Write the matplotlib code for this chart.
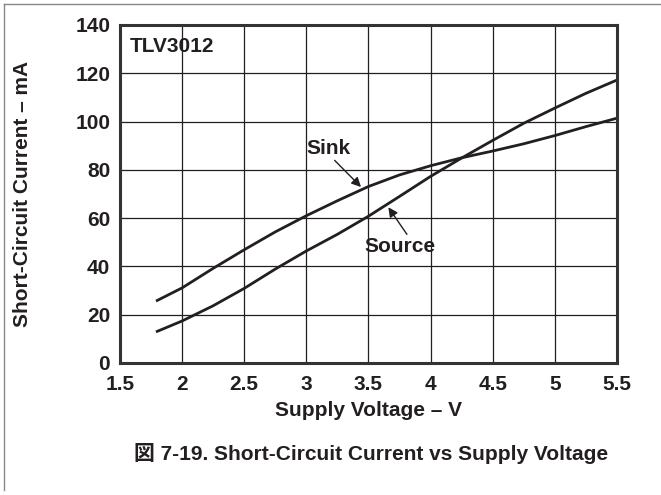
import matplotlib
matplotlib.use("Agg")
import matplotlib.pyplot as plt
from matplotlib.lines import Line2D

plt.rcParams['font.family'] = ['Liberation Sans', 'Noto Sans CJK JP', 'DejaVu Sans']
plt.rcParams['font.weight'] = 'bold'

voltage = [1.8, 2.0, 2.25, 2.5, 2.75, 3.0, 3.25, 3.5, 3.75, 4.0, 4.25, 4.5, 4.75, 5.0, 5.25, 5.5]
sink_ma = [25.9, 31.1, 39.2, 46.9, 54.3, 61.0, 67.2, 73.1, 77.9, 81.7, 85.0, 87.8, 90.8, 94.2, 97.9, 101.4]
source_ma = [13.1, 17.4, 23.7, 30.9, 38.9, 46.4, 53.3, 60.8, 69.0, 77.3, 84.9, 92.2, 99.3, 105.6, 111.7, 117.2]
xticks = [1.5, 2, 2.5, 3, 3.5, 4, 4.5, 5, 5.5]
xtick_labels = ['1.5', '2', '2.5', '3', '3.5', '4', '4.5', '5', '5.5']
yticks = [0, 20, 40, 60, 80, 100, 120, 140]

dark = '#231f20'
fs = 15

fig = plt.figure(figsize=(6.61, 4.95), dpi=100)
ax = fig.add_axes([0.1815, 0.2667, 0.7519, 0.6828])

ax.plot(voltage, sink_ma, color=dark, lw=2.0)
ax.plot(voltage, source_ma, color=dark, lw=2.0)

ax.set_xlim(1.5, 5.5)
ax.set_ylim(0, 140)
ax.set_xticks(xticks)
ax.set_xticklabels(xtick_labels)
ax.set_yticks(yticks)
ax.grid(True, color=dark, lw=0.9)
ax.tick_params(length=0, labelsize=fs, colors=dark)
ax.tick_params(axis='x', pad=9)
ax.tick_params(axis='y', pad=7)
for lab in ax.get_xticklabels() + ax.get_yticklabels():
    lab.set_fontweight('bold')
for s in ax.spines.values():
    s.set_linewidth(2.2)
    s.set_color('#333333')

ax.set_xlabel('Supply Voltage – V', fontsize=fs, fontweight='bold', color=dark)
ax.xaxis.label.set_va('center')
ax.xaxis.set_label_coords(0.5, -0.142)
ax.set_ylabel('Short-Circuit Current – mA', fontsize=fs, fontweight='bold', color=dark)
ax.yaxis.label.set_va('center')
ax.yaxis.set_label_coords(-0.197, 0.5)

ax.text(1.58, 130.9, 'TLV3012', fontsize=fs, fontweight='bold', color=dark, va='center', ha='left')

ax.annotate('Sink', xy=(3.44, 72.9), xytext=(3.0, 89.0), fontsize=fs, fontweight='bold',
            color=dark, va='center', ha='left',
            arrowprops=dict(arrowstyle='-|>', color=dark, lw=1.0, mutation_scale=14,
                            shrinkA=0, shrinkB=0, relpos=(0.58, 0.0)))
ax.annotate('Source', xy=(3.66, 64.5), xytext=(3.47, 48.2), fontsize=fs, fontweight='bold',
            color=dark, va='center', ha='left',
            arrowprops=dict(arrowstyle='-|>', color=dark, lw=1.0, mutation_scale=14,
                            shrinkA=0, shrinkB=0, relpos=(0.62, 1.0)))

fig.text(371 / 661, 1 - 453 / 495, '図 7-19. Short-Circuit Current vs Supply Voltage', fontsize=fs,
         fontweight='bold', color=dark, ha='center', va='center')

# figure frame (top and left)
fig.add_artist(Line2D([4 / 661, 1.0], [1 - 4 / 495, 1 - 4 / 495], color='#888888', lw=1.0,
                      transform=fig.transFigure))
fig.add_artist(Line2D([4 / 661, 4 / 661], [1 - 4 / 495, 1 - 490 / 495], color='#888888', lw=1.0,
                      transform=fig.transFigure))

fig.savefig('out.png', dpi=100)
